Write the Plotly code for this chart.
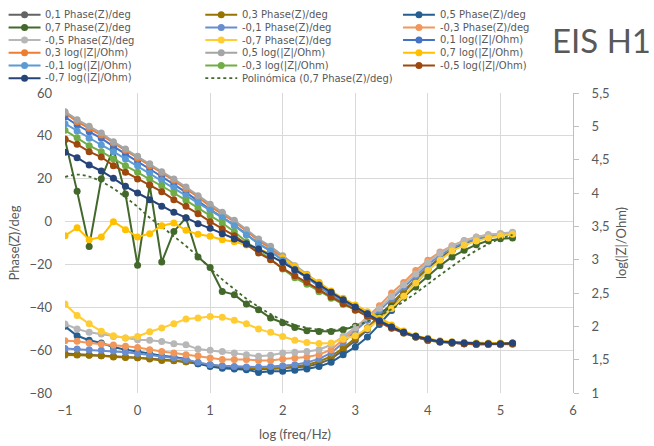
import plotly.graph_objects as go

# ---------------- data ----------------
LOG_FREQ = [-1.0, -0.833, -0.667, -0.5, -0.333, -0.167, 0.0, 0.167, 0.333, 0.5,
            0.667, 0.833, 1.0, 1.167, 1.333, 1.5, 1.667, 1.833, 2.0, 2.167,
            2.333, 2.5, 2.667, 2.833, 3.0, 3.167, 3.333, 3.5, 3.667, 3.833,
            4.0, 4.167, 4.333, 4.5, 4.667, 4.833, 5.0, 5.167]

# Phase(Z)/deg (left axis)
PH_01 = [-61.6, -62.0, -62.3, -62.6, -62.9, -63.2, -63.5, -63.8, -64.4, -64.8, -65.4, -66.3, -67.3, -67.9, -68.4, -68.7, -69.0, -68.8, -68.5, -68.1, -67.6, -66.3, -64.1, -60.0, -55.5, -50.5, -45.0, -39.0, -33.0, -27.0, -21.5, -17.0, -13.2, -10.4, -8.4, -7.0, -6.2, -5.8]
PH_03 = [-62.3, -62.3, -62.4, -62.6, -63.2, -63.4, -63.5, -64.1, -64.8, -65.0, -65.4, -66.0, -66.8, -67.6, -67.9, -68.3, -68.5, -68.5, -68.3, -67.6, -66.8, -65.3, -62.9, -59.0, -54.5, -49.5, -44.0, -38.5, -32.5, -26.8, -21.5, -17.0, -13.3, -10.5, -8.5, -7.1, -6.3, -5.9]
PH_05 = [-48.9, -53.3, -55.4, -56.7, -58.5, -59.8, -60.6, -61.6, -62.6, -63.2, -64.1, -66.3, -67.6, -68.4, -68.8, -69.1, -70.4, -69.9, -69.9, -69.4, -68.8, -67.6, -65.7, -62.1, -58.5, -53.9, -48.0, -41.5, -35.0, -28.5, -22.5, -17.5, -13.5, -10.5, -8.5, -7.0, -6.2, -5.7]
PH_07 = [38.2, 14.1, -11.6, 20.0, 34.0, 12.9, -20.4, 17.0, -18.9, -4.6, 1.7, -16.5, -21.4, -32.6, -34.1, -38.5, -41.1, -45.0, -47.2, -49.4, -51.0, -51.3, -51.3, -50.5, -48.9, -45.8, -42.7, -39.6, -35.2, -30.5, -25.6, -20.6, -16.5, -13.4, -10.8, -8.9, -8.0, -7.7]
PH_M01 = [-59.2, -59.5, -59.8, -60.1, -60.4, -61.0, -61.6, -62.3, -62.9, -63.5, -64.4, -65.7, -66.8, -67.3, -67.6, -67.9, -67.9, -67.6, -67.3, -66.8, -65.7, -64.1, -61.3, -56.5, -51.0, -46.0, -41.5, -36.0, -30.5, -25.3, -20.0, -15.8, -12.3, -9.8, -8.0, -6.8, -6.0, -5.6]
PH_M03 = [-55.6, -55.9, -56.7, -57.1, -57.6, -58.2, -58.8, -59.8, -60.6, -61.3, -62.1, -62.6, -63.7, -64.4, -64.4, -64.4, -64.8, -64.8, -64.1, -63.7, -63.2, -62.1, -59.8, -55.0, -49.7, -44.3, -39.3, -33.3, -28.4, -22.8, -18.1, -14.2, -11.3, -8.8, -7.2, -6.1, -5.7, -5.3]
PH_M05 = [-47.8, -50.1, -51.7, -52.5, -53.6, -54.3, -55.1, -55.4, -56.0, -57.0, -57.5, -59.5, -60.1, -60.6, -61.3, -62.1, -62.9, -62.4, -61.3, -61.0, -60.6, -59.8, -57.5, -53.5, -49.5, -45.0, -40.5, -35.0, -29.5, -24.5, -19.0, -14.8, -11.5, -9.0, -7.3, -6.2, -5.6, -5.0]
PH_M07 = [-38.5, -43.8, -47.7, -51.2, -53.3, -54.3, -53.6, -51.4, -49.7, -47.7, -45.5, -45.0, -44.3, -44.7, -46.1, -47.7, -50.1, -51.7, -53.6, -55.4, -56.4, -56.9, -56.7, -54.8, -53.3, -49.9, -45.8, -40.6, -34.9, -28.7, -22.8, -18.1, -13.7, -11.1, -9.1, -7.7, -6.6, -5.9]
# polynomial trendline of 0,7 Phase
POLY_07 = [20.8, 21.9, 21.0, 18.7, 15.4, 11.3, 6.9, 1.8, -2.4, -6.9, -11.4, -16.3, -21.8, -27.0, -31.5, -36.0, -39.8, -43.2, -46.0, -48.2, -49.6, -50.4, -50.6, -50.0, -48.6, -46.6, -44.0, -40.9, -37.3, -33.4, -29.2, -25.0, -20.9, -17.0, -13.5, -10.5, -8.0, -6.2]

# log(|Z|/Ohm) (right axis)
LOG_01 = [5.14, 5.02, 4.92, 4.82, 4.70, 4.58, 4.47, 4.36, 4.25, 4.13, 4.01, 3.88, 3.75, 3.64, 3.52, 3.38, 3.24, 3.13, 2.99, 2.85, 2.73, 2.60, 2.47, 2.38, 2.28, 2.19, 2.09, 1.99, 1.91, 1.84, 1.79, 1.77, 1.75, 1.74, 1.73, 1.73, 1.73, 1.74]
LOG_03 = [5.20, 5.07, 4.97, 4.87, 4.75, 4.64, 4.52, 4.41, 4.30, 4.19, 4.06, 3.94, 3.80, 3.69, 3.57, 3.43, 3.29, 3.17, 3.03, 2.89, 2.76, 2.64, 2.50, 2.40, 2.29, 2.19, 2.09, 1.99, 1.91, 1.84, 1.79, 1.77, 1.75, 1.74, 1.73, 1.73, 1.73, 1.74]
LOG_05 = [5.22, 5.10, 5.00, 4.90, 4.77, 4.66, 4.55, 4.44, 4.32, 4.21, 4.09, 3.96, 3.83, 3.71, 3.59, 3.45, 3.31, 3.20, 3.06, 2.91, 2.78, 2.65, 2.51, 2.41, 2.30, 2.20, 2.10, 2.00, 1.92, 1.85, 1.80, 1.78, 1.76, 1.75, 1.74, 1.74, 1.74, 1.75]
LOG_07 = [3.36, 3.48, 3.30, 3.34, 3.57, 3.45, 3.34, 3.39, 3.51, 3.55, 3.44, 3.38, 3.35, 3.30, 3.27, 3.22, 3.16, 3.10, 3.03, 2.90, 2.77, 2.66, 2.53, 2.42, 2.32, 2.22, 2.12, 2.02, 1.93, 1.86, 1.82, 1.78, 1.77, 1.76, 1.75, 1.75, 1.75, 1.75]
LOG_M01 = [5.04, 4.93, 4.82, 4.72, 4.62, 4.51, 4.41, 4.30, 4.19, 4.08, 3.96, 3.85, 3.74, 3.63, 3.51, 3.37, 3.24, 3.13, 2.99, 2.85, 2.73, 2.60, 2.48, 2.38, 2.28, 2.19, 2.09, 1.99, 1.91, 1.84, 1.79, 1.77, 1.75, 1.74, 1.73, 1.73, 1.73, 1.74]
LOG_M03 = [4.94, 4.83, 4.71, 4.62, 4.51, 4.41, 4.31, 4.21, 4.11, 4.00, 3.89, 3.77, 3.66, 3.55, 3.42, 3.27, 3.13, 3.01, 2.86, 2.73, 2.63, 2.52, 2.42, 2.33, 2.25, 2.16, 2.07, 1.98, 1.90, 1.84, 1.79, 1.76, 1.75, 1.74, 1.73, 1.73, 1.73, 1.73]
LOG_M05 = [4.81, 4.73, 4.62, 4.54, 4.41, 4.31, 4.21, 4.12, 4.02, 3.90, 3.80, 3.69, 3.57, 3.46, 3.36, 3.23, 3.10, 3.00, 2.87, 2.76, 2.66, 2.55, 2.44, 2.34, 2.24, 2.15, 2.06, 1.97, 1.90, 1.84, 1.79, 1.77, 1.75, 1.74, 1.73, 1.73, 1.73, 1.74]
LOG_M07 = [4.61, 4.53, 4.42, 4.33, 4.22, 4.10, 4.00, 3.90, 3.80, 3.71, 3.63, 3.54, 3.47, 3.39, 3.31, 3.24, 3.16, 3.06, 2.96, 2.85, 2.74, 2.62, 2.51, 2.40, 2.29, 2.19, 2.08, 1.99, 1.91, 1.85, 1.81, 1.77, 1.76, 1.75, 1.74, 1.74, 1.74, 1.75]

PHASE_SERIES = [
    ("0,1 Phase(Z)/deg", PH_01, "#636363"),
    ("0,3 Phase(Z)/deg", PH_03, "#997300"),
    ("0,5 Phase(Z)/deg", PH_05, "#255E91"),
    ("0,7 Phase(Z)/deg", PH_07, "#43682B"),
    ("-0,1 Phase(Z)/deg", PH_M01, "#698ED0"),
    ("-0,3 Phase(Z)/deg", PH_M03, "#F1975A"),
    ("-0,5 Phase(Z)/deg", PH_M05, "#B7B7B7"),
    ("-0,7 Phase(Z)/deg", PH_M07, "#FFCD33"),
]
LOG_SERIES = [
    ("0,1 log(|Z|/Ohm)", LOG_01, "#4472C4"),
    ("0,3 log(|Z|/Ohm)", LOG_03, "#ED7D31"),
    ("0,5 log(|Z|/Ohm)", LOG_05, "#A5A5A5"),
    ("0,7 log(|Z|/Ohm)", LOG_07, "#FFC000"),
    ("-0,1 log(|Z|/Ohm)", LOG_M01, "#5B9BD5"),
    ("-0,3 log(|Z|/Ohm)", LOG_M03, "#70AD47"),
    ("-0,5 log(|Z|/Ohm)", LOG_M05, "#9E480E"),
    ("-0,7 log(|Z|/Ohm)", LOG_M07, "#264478"),
]
TREND_NAME = "Polinómica (0,7 Phase(Z)/deg)"
TREND_COLOR = "#43682B"

FONT = "Lato, 'Liberation Sans', sans-serif"
LEG_FONT = "'DejaVu Sans', sans-serif"
TXT = "#595959"

fig = go.Figure()
for name, ys, col in PHASE_SERIES:
    fig.add_trace(go.Scatter(x=LOG_FREQ, y=ys, name=name, mode="lines+markers",
                             line=dict(color=col, width=2), marker=dict(color=col, size=7),
                             showlegend=False, yaxis="y"))
fig.add_trace(go.Scatter(x=LOG_FREQ, y=POLY_07, name=TREND_NAME, mode="lines",
                         line=dict(color=TREND_COLOR, width=1.8, dash="dot", shape="spline"),
                         showlegend=False, yaxis="y"))
for name, ys, col in LOG_SERIES:
    fig.add_trace(go.Scatter(x=LOG_FREQ, y=ys, name=name, mode="lines+markers",
                             line=dict(color=col, width=2), marker=dict(color=col, size=7),
                             showlegend=False, yaxis="y2"))

# ---------- manual legend (Excel style, 3 columns) ----------
W, H = 654, 446
ML, MR, MT, MB = 64.5, 80.7, 93.3, 52.7
PW, PH = W - ML - MR, H - MT - MB


def px2x(px):
    return (px - ML) / PW


def py2y(py):
    return (H - MB - py) / PH


legend_entries = [(n, c, False) for n, _, c in PHASE_SERIES] + \
                 [(n, c, False) for n, _, c in LOG_SERIES] + [(TREND_NAME, TREND_COLOR, True)]
cols = [(8, 40, 42.5), (205, 237, 239.5), (403, 435, 438)]
rows = [15, 27.7, 40.4, 53.1, 65.8, 78.5]
shapes = []
annotations = []
for i, (name, col, dotted) in enumerate(legend_entries):
    r, c = divmod(i, 3)
    x0, x1, xt = cols[c]
    yy = py2y(rows[r])
    shapes.append(dict(type="line", xref="paper", yref="paper", x0=px2x(x0), x1=px2x(x1),
                       y0=yy, y1=yy, line=dict(color=col, width=1.8 if dotted else 2,
                                                dash="dot" if dotted else "solid")))
    if not dotted:
        shapes.append(dict(type="circle", xref="paper", yref="paper", xsizemode="pixel",
                           ysizemode="pixel", xanchor=px2x((x0 + x1) / 2), yanchor=yy,
                           x0=-3.5, x1=3.5, y0=-3.5, y1=3.5,
                           fillcolor=col, line=dict(color=col, width=0)))
    annotations.append(dict(text=name, xref="paper", yref="paper", x=px2x(xt), y=yy,
                            xanchor="left", yanchor="middle", showarrow=False,
                            font=dict(family=LEG_FONT, size=10, color=TXT)))

annotations.append(dict(text="EIS H1", xref="paper", yref="paper", x=px2x(653), y=py2y(40),
                        xanchor="right", yanchor="middle", showarrow=False,
                        font=dict(family=FONT, size=33, color=TXT)))
annotations.append(dict(text="log (freq/Hz)", xref="paper", yref="paper", x=px2x(295),
                        y=py2y(434), xanchor="center", yanchor="middle", showarrow=False,
                        font=dict(family=FONT, size=13, color=TXT)))

fig.update_layout(
    width=W, height=H,
    margin=dict(l=ML, r=MR, t=MT, b=MB, pad=0, autoexpand=False),
    paper_bgcolor="white", plot_bgcolor="white",
    separators=", ",
    font=dict(family=FONT, size=13, color=TXT),
    showlegend=False,
    hovermode=False,
    shapes=shapes,
    annotations=annotations,
    xaxis=dict(range=[-1, 6], dtick=1, tick0=-1, showgrid=True, gridcolor="#D9D9D9",
               gridwidth=1, zeroline=False, showline=False, ticks="",
               ticklabelstandoff=8),
    yaxis=dict(range=[-80, 60], dtick=20, tick0=-80, showgrid=True, gridcolor="#D9D9D9",
               gridwidth=1, zeroline=False, showline=False, ticks="",
               ticklabelstandoff=12,
               title=dict(text="Phase(Z)/deg", font=dict(size=13, color=TXT), standoff=6)),
    yaxis2=dict(range=[1, 5.5], dtick=0.5, tick0=1, overlaying="y", side="right",
                showgrid=False, zeroline=False, showline=True, linecolor="#BFBFBF",
                linewidth=1, ticks="outside", ticklen=5, tickcolor="#BFBFBF",
                ticklabelstandoff=10,
                title=dict(text="log(|Z|/Ohm)", font=dict(size=13, color=TXT), standoff=8)),
)

fig.write_html("out.html", config={"displayModeBar": False, "staticPlot": True},
               post_script="document.body.style.margin='0px';")
